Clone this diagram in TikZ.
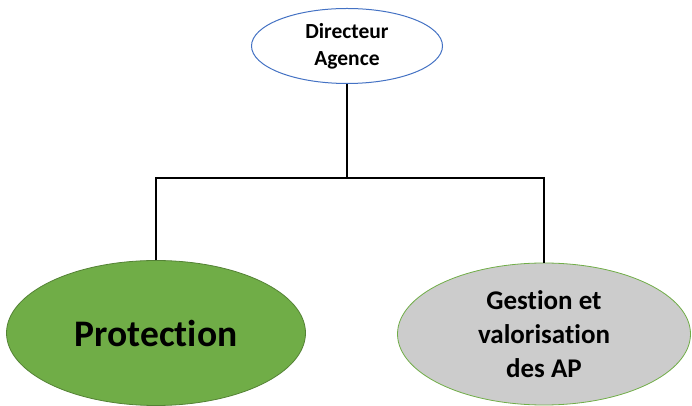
\documentclass[tikz,border=0pt]{standalone}
\usepackage{fontspec}
\setmainfont[Ligatures=NoCommon]{Carlito}
\definecolor{orgblue}{RGB}{68,114,196}
\definecolor{orggreen}{RGB}{112,173,71}
\definecolor{orgdkgreen}{RGB}{84,130,53}
\definecolor{orggray}{RGB}{204,204,204}
\usetikzlibrary{shapes.geometric,positioning}

\begin{document}
\begin{tikzpicture}[x=1pt, y=1pt, every node/.style={ellipse, align=center, inner sep=0pt}]
\useasboundingbox (0,0) rectangle (692,406);
% Head of the agency
\node[draw=orgblue, line width=1pt, fill=white, minimum width=191pt, minimum height=75pt,
  font=\fontsize{21.5}{27}\selectfont\bfseries] (dir) at (347,360) {Directeur\\Agence};
% The two units
\node[draw=orgdkgreen, line width=0.8pt, fill=orggreen, minimum width=299pt, minimum height=145pt,
  font=\fontsize{37.5}{44}\selectfont\bfseries] (prot) at (156,73) {Protection};
\node[draw=orggreen, line width=0.8pt, fill=orggray, minimum width=293pt, minimum height=142pt,
  font=\fontsize{27}{34}\selectfont\bfseries] (gest) at (544,72) {Gestion et\\valorisation\\des AP};
% Links
\coordinate (bar) at (347,228);
\draw[line width=1.6pt] (dir.south) -- (bar);
\draw[line width=1.6pt] (prot.north) |- (bar) -| (gest.north);
\end{tikzpicture}
\end{document}
